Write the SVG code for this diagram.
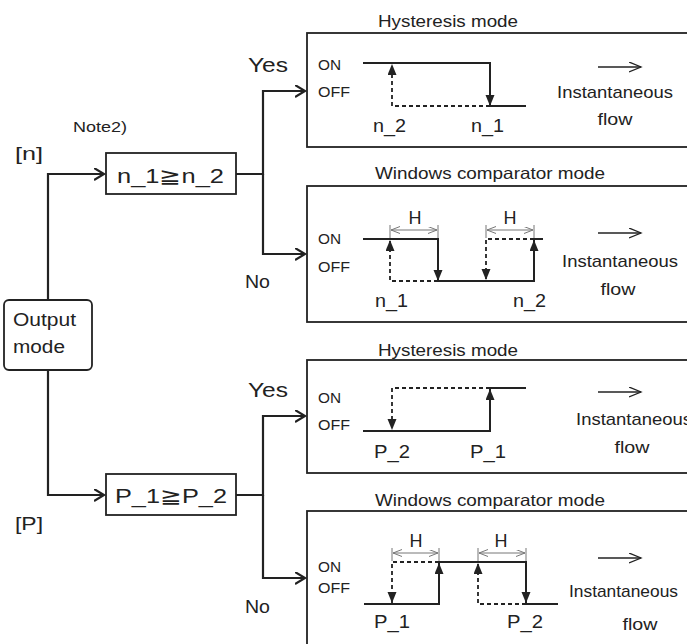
<svg xmlns="http://www.w3.org/2000/svg" width="687" height="644" viewBox="0 0 687 644">
<style>
text{font-family:"Liberation Sans",Arial,sans-serif;fill:#222}
.box{fill:#fff;stroke:#222;stroke-width:1.8}
.conn{fill:none;stroke:#222;stroke-width:2.2}
.sig{fill:none;stroke:#222;stroke-width:2}
.dash{fill:none;stroke:#222;stroke-width:1.8;stroke-dasharray:4 3}
.dim{fill:none;stroke:#777;stroke-width:1}
.flow{fill:none;stroke:#222;stroke-width:1.3}
.t17{font-size:17px}
.t14{font-size:14px}
.t18{font-size:18px}
.t16{font-size:16.5px}
.t19{font-size:19.5px}
</style>
<defs>
<marker id="chev" markerUnits="userSpaceOnUse" markerWidth="14" markerHeight="14" refX="10" refY="6" orient="auto">
<path d="M0,0 L10,6 L0,12" fill="none" stroke="#222" stroke-width="2.2"/>
</marker>
<marker id="tri" markerUnits="userSpaceOnUse" markerWidth="12" markerHeight="12" refX="11" refY="4.5" orient="auto">
<path d="M0,0 L11,4.5 L0,9 z" fill="#222"/>
</marker>
<marker id="thin" markerUnits="userSpaceOnUse" markerWidth="14" markerHeight="12" refX="12" refY="5" orient="auto">
<path d="M0,0 L12,5 L0,10" fill="none" stroke="#222" stroke-width="1.3"/>
</marker>
<marker id="dimA" markerUnits="userSpaceOnUse" markerWidth="12" markerHeight="10" refX="9" refY="3.5" orient="auto-start-reverse">
<path d="M0,0 L9,3.5 L0,7" fill="none" stroke="#777" stroke-width="1"/>
</marker>
</defs>

<g id="connectors">
<path class="conn" d="M48,300 V174 H104" marker-end="url(#chev)"/>
<path class="conn" d="M48,370 V495 H104" marker-end="url(#chev)"/>
<path class="conn" d="M236,174 H263 V91 H305" marker-end="url(#chev)"/>
<path class="conn" d="M263,174 V254 H305" marker-end="url(#chev)"/>
<path class="conn" d="M236,495 H263 V416 H305" marker-end="url(#chev)"/>
<path class="conn" d="M263,495 V578 H305" marker-end="url(#chev)"/>
</g>

<g id="labels">
<text class="t18" x="15" y="160" textLength="28" lengthAdjust="spacingAndGlyphs">[n]</text>
<text class="t18" x="15" y="530" textLength="28" lengthAdjust="spacingAndGlyphs">[P]</text>
<text class="t14" x="73" y="132" textLength="54" lengthAdjust="spacingAndGlyphs">Note2)</text>
<text class="t19" x="248" y="72" textLength="40" lengthAdjust="spacingAndGlyphs">Yes</text>
<text class="t18" x="245" y="288" textLength="25" lengthAdjust="spacingAndGlyphs">No</text>
<text class="t19" x="248" y="397" textLength="40" lengthAdjust="spacingAndGlyphs">Yes</text>
<text class="t18" x="245" y="613" textLength="25" lengthAdjust="spacingAndGlyphs">No</text>
</g>

<g id="output-mode">
<rect class="box" x="4" y="300" width="88" height="70" rx="5"/>
<text class="t18" x="13" y="326" textLength="63" lengthAdjust="spacingAndGlyphs">Output</text>
<text class="t18" x="13" y="353" textLength="52" lengthAdjust="spacingAndGlyphs">mode</text>
</g>

<g id="cond-n">
<rect class="box" x="106" y="153" width="130" height="41"/>
<text class="t19" x="117" y="183" textLength="107" lengthAdjust="spacingAndGlyphs">n_1≧n_2</text>
</g>

<g id="cond-p">
<rect class="box" x="106" y="474" width="130" height="41"/>
<text class="t19" x="115" y="503" textLength="112" lengthAdjust="spacingAndGlyphs">P_1≧P_2</text>
</g>

<g id="hyst-n">
<text class="t16" x="378" y="27" textLength="140" lengthAdjust="spacingAndGlyphs">Hysteresis mode</text>
<rect class="box" x="307" y="33" width="420" height="114"/>
<text class="t14" x="318" y="70" textLength="23" lengthAdjust="spacingAndGlyphs">ON</text>
<text class="t14" x="318" y="97" textLength="32" lengthAdjust="spacingAndGlyphs">OFF</text>
<path class="sig" d="M363,63 H490 V106" marker-end="url(#tri)"/>
<path class="sig" d="M490,106 H526"/>
<path class="dash" d="M490,106 H392 V64" marker-end="url(#tri)"/>
<text class="t18" x="373" y="132" textLength="33" lengthAdjust="spacingAndGlyphs">n_2</text>
<text class="t18" x="471" y="132" textLength="33" lengthAdjust="spacingAndGlyphs">n_1</text>
<path class="flow" d="M598,67 H641" marker-end="url(#thin)"/>
<text class="t17" x="557" y="98" textLength="116" lengthAdjust="spacingAndGlyphs">Instantaneous</text>
<text class="t17" x="615" y="125" text-anchor="middle" textLength="35" lengthAdjust="spacingAndGlyphs">flow</text>
</g>

<g id="window-n">
<text class="t16" x="375" y="179" textLength="230" lengthAdjust="spacingAndGlyphs">Windows comparator mode</text>
<rect class="box" x="307" y="186" width="420" height="136"/>
<text class="t14" x="318" y="244" textLength="23" lengthAdjust="spacingAndGlyphs">ON</text>
<text class="t14" x="318" y="272" textLength="32" lengthAdjust="spacingAndGlyphs">OFF</text>
<text class="t18" x="415" y="224" text-anchor="middle">H</text>
<text class="t18" x="510" y="224" text-anchor="middle">H</text>
<path class="dim" d="M391,230 H437" marker-start="url(#dimA)" marker-end="url(#dimA)"/>
<path class="dim" d="M487,230 H533" marker-start="url(#dimA)" marker-end="url(#dimA)"/>
<path class="dim" d="M390,225 V238 M438,225 V238 M486,225 V238 M534,225 V238"/>
<path class="sig" d="M363,239 H438 V281" marker-end="url(#tri)"/>
<path class="sig" d="M438,281 H534 V240" marker-end="url(#tri)"/>
<path class="sig" d="M534,239 H543"/>
<path class="dash" d="M438,281 H390 V240" marker-end="url(#tri)"/>
<path class="dash" d="M534,239 H486 V280" marker-end="url(#tri)"/>
<text class="t18" x="375" y="307" textLength="33" lengthAdjust="spacingAndGlyphs">n_1</text>
<text class="t18" x="513" y="307" textLength="33" lengthAdjust="spacingAndGlyphs">n_2</text>
<path class="flow" d="M598,233 H641" marker-end="url(#thin)"/>
<text class="t17" x="562" y="267" textLength="116" lengthAdjust="spacingAndGlyphs">Instantaneous</text>
<text class="t17" x="618" y="295" text-anchor="middle" textLength="35" lengthAdjust="spacingAndGlyphs">flow</text>
</g>

<g id="hyst-p">
<text class="t16" x="378" y="356" textLength="140" lengthAdjust="spacingAndGlyphs">Hysteresis mode</text>
<rect class="box" x="307" y="360" width="420" height="113"/>
<text class="t14" x="318" y="403" textLength="23" lengthAdjust="spacingAndGlyphs">ON</text>
<text class="t14" x="318" y="430" textLength="32" lengthAdjust="spacingAndGlyphs">OFF</text>
<path class="sig" d="M363,431 H490 V389" marker-end="url(#tri)"/>
<path class="sig" d="M490,388 H526"/>
<path class="dash" d="M490,388 H392 V430" marker-end="url(#tri)"/>
<text class="t18" x="374" y="458" textLength="36" lengthAdjust="spacingAndGlyphs">P_2</text>
<text class="t18" x="470" y="458" textLength="36" lengthAdjust="spacingAndGlyphs">P_1</text>
<path class="flow" d="M598,392 H641" marker-end="url(#thin)"/>
<text class="t17" x="576" y="425" textLength="116" lengthAdjust="spacingAndGlyphs">Instantaneous</text>
<text class="t17" x="632" y="453" text-anchor="middle" textLength="35" lengthAdjust="spacingAndGlyphs">flow</text>
</g>

<g id="window-p">
<text class="t16" x="375" y="506" textLength="230" lengthAdjust="spacingAndGlyphs">Windows comparator mode</text>
<rect class="box" x="307" y="511" width="420" height="200"/>
<text class="t14" x="318" y="572" textLength="23" lengthAdjust="spacingAndGlyphs">ON</text>
<text class="t14" x="318" y="593" textLength="32" lengthAdjust="spacingAndGlyphs">OFF</text>
<text class="t18" x="416" y="547" text-anchor="middle">H</text>
<text class="t18" x="501" y="547" text-anchor="middle">H</text>
<path class="dim" d="M393,553 H438" marker-start="url(#dimA)" marker-end="url(#dimA)"/>
<path class="dim" d="M479,553 H525" marker-start="url(#dimA)" marker-end="url(#dimA)"/>
<path class="dim" d="M392,548 V561 M439,548 V561 M478,548 V561 M526,548 V561"/>
<path class="sig" d="M364,604 H439 V563" marker-end="url(#tri)"/>
<path class="sig" d="M439,562 H526 V603" marker-end="url(#tri)"/>
<path class="sig" d="M526,604 H558"/>
<path class="dash" d="M439,562 H392 V603" marker-end="url(#tri)"/>
<path class="dash" d="M526,604 H478 V563" marker-end="url(#tri)"/>
<text class="t18" x="374" y="628" textLength="36" lengthAdjust="spacingAndGlyphs">P_1</text>
<text class="t18" x="507" y="628" textLength="36" lengthAdjust="spacingAndGlyphs">P_2</text>
<path class="flow" d="M598,558 H641" marker-end="url(#thin)"/>
<text class="t17" x="569" y="597" textLength="109" lengthAdjust="spacingAndGlyphs">Instantaneous</text>
<text class="t17" x="640" y="630" text-anchor="middle" textLength="35" lengthAdjust="spacingAndGlyphs">flow</text>
</g>
</svg>
